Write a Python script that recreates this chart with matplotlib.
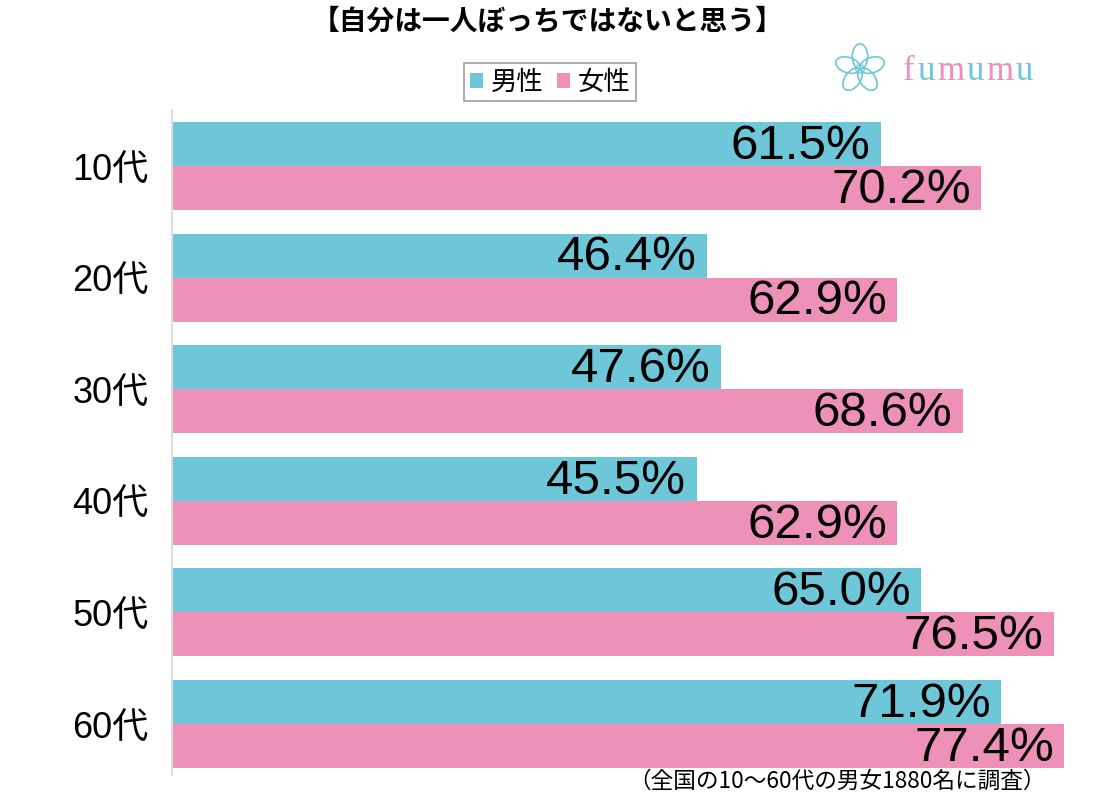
import matplotlib
matplotlib.use("Agg")
import matplotlib.pyplot as plt
from matplotlib.patches import Ellipse
import numpy as np

plt.rcParams['font.family'] = ['Liberation Sans', 'Noto Sans CJK JP', 'DejaVu Sans']

categories = ['10代', '20代', '30代', '40代', '50代', '60代']
male = [61.5, 46.4, 47.6, 45.5, 65.0, 71.9]
female = [70.2, 62.9, 68.6, 62.9, 76.5, 77.4]
series_names = ['男性', '女性']
title = '【自分は一人ぼっちではないと思う】'
note = '（全国の10～60代の男女1880名に調査）'

c_male = '#6EC6D9'
c_female = '#EE91B8'
cjk = ['Noto Sans CJK JP', 'DejaVu Sans']

W, H = 1102, 800
fig = plt.figure(figsize=(W / 100, H / 100), dpi=100)
# axes from x=172px to right edge, y from 110px to 775px
ax = fig.add_axes([172 / W, 1 - 775 / H, (W - 172) / W, (775 - 110) / H])

y = np.arange(len(categories))
h = 44 / 111.6
ax.barh(y - h / 2, male, height=h, color=c_male, label=series_names[0])
ax.barh(y + h / 2, female, height=h, color=c_female, label=series_names[1])

ax.set_xlim(0, (W - 172) / 11.53)
ax.set_ylim((775 - 166) / 111.6, -(166 - 110) / 111.6)

for i in range(len(categories)):
    ax.text(male[i] - 0.9, y[i] - h / 2 + 0.02, f'{male[i]:.1f}%', ha='right', va='center',
            fontsize=35.5, color='black')
    ax.text(female[i] - 0.9, y[i] + h / 2 + 0.02, f'{female[i]:.1f}%', ha='right', va='center',
            fontsize=35.5, color='black')

ax.set_yticks(y)
ax.set_yticklabels(categories, fontsize=26)
ax.tick_params(axis='y', length=0, pad=17)
ax.set_xticks([])
for s in ['top', 'right', 'bottom']:
    ax.spines[s].set_visible(False)
ax.spines['left'].set_color('#dddddd')
ax.spines['left'].set_linewidth(1.5)

fig.text(548 / W, 1 - 22 / H, title, ha='center', va='center', fontsize=20,
         fontweight='bold', family=cjk)

leg = fig.legend(loc='center', bbox_to_anchor=(550 / W, 1 - 82 / H), ncol=2,
                 prop={'family': cjk, 'size': 19},
                 frameon=True, fancybox=False, edgecolor='#888888', handlelength=0.5,
                 handleheight=0.5, handletextpad=0.3, columnspacing=0.5, borderpad=0.2,
                 borderaxespad=0)
leg.get_frame().set_linewidth(1.2)

fig.text(1046 / W, 1 - 781 / H, note, ha='right', va='center', fontsize=16.3, family=cjk)

# logo
logo_colors = [c_female, c_male, c_female, c_male, c_female, c_male]
r = fig.canvas.get_renderer()
xpos = 903
for k, ch in enumerate('fumumu'):
    t = fig.text(xpos / W, 1 - 80 / H, ch, ha='left', va='baseline', fontsize=25,
                 family='Liberation Serif', color=logo_colors[k])
    bb = t.get_window_extent(renderer=r)
    xpos = bb.x1 + 2.5
lax = fig.add_axes([832 / W, 1 - 97 / H, 56 / W, 56 / H])
lax.set_xlim(-1, 1)
lax.set_ylim(-1, 1)
lax.axis('off')
for a in range(5):
    ang = np.deg2rad(90 + a * 72)
    lax.add_patch(Ellipse((0.45 * np.cos(ang), 0.45 * np.sin(ang)), 0.9, 0.55,
                          angle=np.rad2deg(ang), fill=False, edgecolor=c_male, lw=1.2))
lax.add_patch(Ellipse((0, 0), 0.3, 0.3, fill=False, edgecolor=c_male, lw=1))

fig.savefig('out.png', dpi=100)
